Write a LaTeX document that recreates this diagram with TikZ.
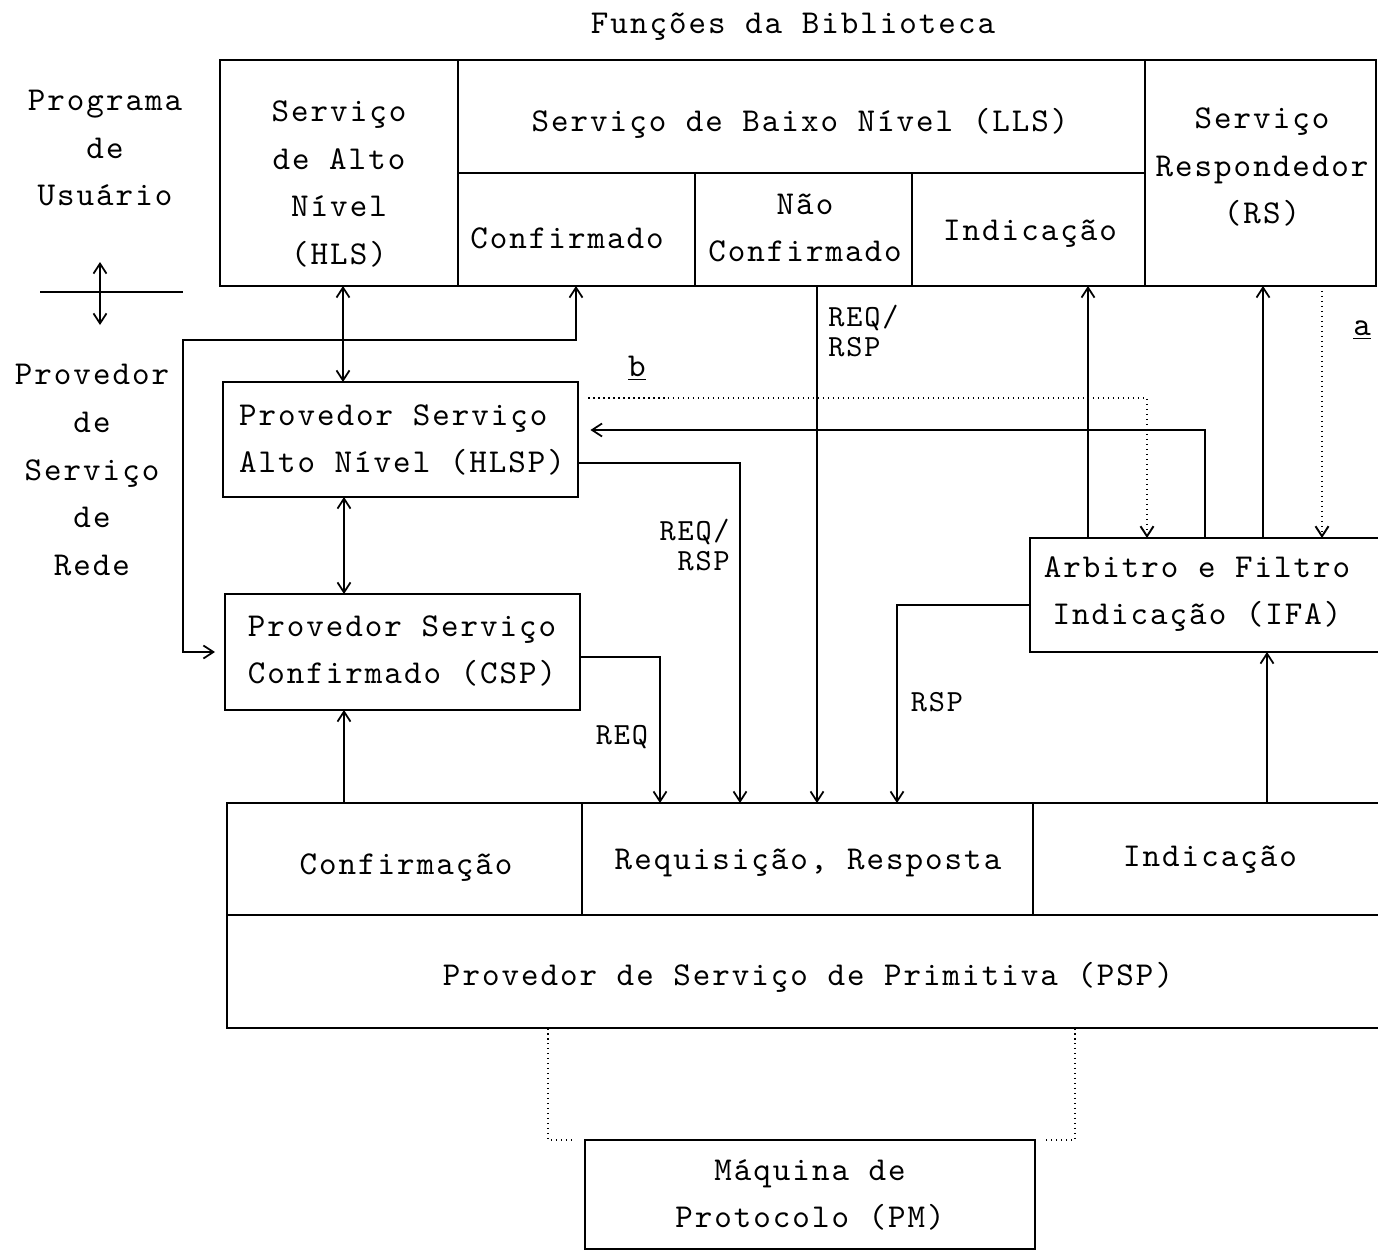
\documentclass[tikz,border=0pt]{standalone}
\usepackage{fontspec}
\usetikzlibrary{arrows.meta,calc}
\newfontfamily\twfont{lmmono10-regular.otf}[LetterSpace=6]
\tikzset{
  box/.style={draw, line width=1pt, inner sep=0pt, outer sep=0pt, anchor=north west},
  txt/.style={inner sep=0pt, align=center, font=\twfont\fontsize{19pt}{27.2pt}\selectfont},
  lbl/.style={inner sep=0pt, font=\twfont\fontsize{17.5pt}{17.5pt}\selectfont},
  conn/.style={line width=1pt},
  dotl/.style={line width=1.1pt, dash pattern=on 0.03cm off 0.07cm},
}
\begin{document}
\begin{tikzpicture}[x=0.02cm,y=-0.02cm,>={Straight Barb[length=0.2cm,width=0.26cm]}]
\useasboundingbox (0,0) rectangle (1378,1252);
\clip (0,0) rectangle (1378,1252);
\fill[white] (0,0) rectangle (1378,1252);

\foreach \c in {183,343,344,548,576,660,740,817,897,1075,1088,1147,1205,1263,1267,1322}
  \coordinate (c\c) at (\c,0);

% boxes
\node[box,minimum width=4.76cm,minimum height=4.52cm] (hls) at (220,60) {};
\node[box,minimum width=13.74cm,minimum height=2.26cm] (lls) at (458,60) {};
\node[box,minimum width=4.74cm,minimum height=2.26cm] (conf) at (458,173) {};
\node[box,minimum width=4.34cm,minimum height=2.26cm] (nconf) at (695,173) {};
\node[box,minimum width=4.66cm,minimum height=2.26cm] (ind) at (912,173) {};
\node[box,minimum width=4.62cm,minimum height=4.52cm] (rs) at (1145,60) {};
\node[box,minimum width=7.1cm,minimum height=2.3cm] (hlsp) at (223,382) {};
\node[box,minimum width=7.1cm,minimum height=2.32cm] (csp) at (225,594) {};
\node[box,minimum width=7.4cm,minimum height=2.28cm] (ifa) at (1030,538) {};
\node[box,minimum width=7.1cm,minimum height=2.24cm] (confm) at (227,803) {};
\node[box,minimum width=9.02cm,minimum height=2.24cm] (reqresp) at (582,803) {};
\node[box,minimum width=7.4cm,minimum height=2.24cm] (indb) at (1033,803) {};
\node[box,minimum width=23.52cm,minimum height=2.26cm] (psp) at (227,915) {};
\node[box,minimum width=9.0cm,minimum height=2.18cm] (pm) at (585,1140) {};

% texts
\node[txt] (title) at (793,27) {Funções da Biblioteca};
\node[txt] (tprog) at (105,148) {Programa\\de\\Usuário};
\node[txt] (tprov) at (92,470) {Provedor\\de\\Serviço\\de\\Rede};
\node[txt] (thls) at (339,184) {Serviço\\de Alto\\Nível\\(HLS)};
\node[txt] (tlls) at (800,123) {Serviço de Baixo Nível (LLS)};
\node[txt] (tconf) at (567,238) {Confirmado};
\node[txt] (tnconf) at (805,228) {Não\\Confirmado};
\node[txt] (tind) at (1030,234) {Indicação};
\node[txt] (trs) at (1262,167) {Serviço\\Respondedor\\(RS)};
\node[txt,align=left] (thlsp) at (402,440) {Provedor Serviço\\Alto Nível (HLSP)};
\node[txt,align=left] (tcsp) at (402,651) {Provedor Serviço\\Confirmado (CSP)};
\node[txt] (tifa) at (1197,594) {Arbitro e Filtro\\Indicação (IFA)};
\node[txt] (tconfm) at (406,868) {Confirmação};
\node[txt] (treq) at (808,863) {Requisição, Resposta};
\node[txt] (tindb) at (1210,860) {Indicação};
\node[txt] (tpsp) at (808,977) {Provedor de Serviço de Primitiva (PSP)};
\node[txt] (tpm) at (810,1195) {Máquina de\\Protocolo (PM)};
\node[lbl,anchor=west,align=left] (l1) at (828,331) {REQ/\\RSP};
\node[lbl,anchor=east,align=right] (l2) at (730,545) {REQ/\\RSP};
\node[lbl] (l3) at (622,737) {REQ};
\node[lbl] (l4) at (937,702) {RSP};
\node[txt] (la) at (1362,330) {\underline{a}};
\node[txt] (lb) at (637,368) {\underline{b}};

% left divider
\coordinate (dl) at (40,292);
\coordinate (dr) at (183,292);
\coordinate (au) at (100,262);
\coordinate (ad) at (100,325);
\draw[conn] (dl) -- (dr);
\draw[conn,<->] (au) -- (ad);

% connectors
\coordinate (r1) at (576,340);
\coordinate (r2) at (183,340);
\coordinate (bstart) at (588,398);
\draw[conn,<->] (hls.south -| c343) -- (hlsp.north -| c343);
\draw[conn,<->] (hlsp.south -| c344) -- (csp.north -| c344);
\draw[conn,<->,shorten >=0.2cm] (conf.south -| c576) -- (r1) -- (r2) |- (csp.west);
\draw[conn,->] ([yshift=-0.47cm]hlsp.east) -| (reqresp.north -| c740);
\draw[conn,->] ([yshift=-0.1cm]csp.east) -| (reqresp.north -| c660);
\draw[conn,->] (nconf.south -| c817) -- (reqresp.north -| c817);
\draw[conn,->] ([yshift=-0.2cm]ifa.west) -| (reqresp.north -| c897);
\draw[conn,->,shorten >=0.25cm] (ifa.north -| c1205) |- ([yshift=0.19cm]hlsp.east);
\draw[conn,->] (ifa.north -| c1088) -- (ind.south -| c1088);
\draw[conn,->] (ifa.north -| c1263) -- (rs.south -| c1263);
\draw[dotl,->] (rs.south -| c1322) -- (ifa.north -| c1322);
\draw[dotl,->] (bstart) -- (c1147 |- bstart) -- (ifa.north -| c1147);
\draw[conn,->] (confm.north -| c344) -- (csp.south -| c344);
\draw[conn,->] (indb.north -| c1267) -- (ifa.south -| c1267);
\draw[dotl] (psp.south -| c548) |- ([xshift=-0.2cm]pm.north west);
\draw[dotl] (psp.south -| c1075) |- ([xshift=0.2cm]pm.north east);
\end{tikzpicture}
\end{document}
